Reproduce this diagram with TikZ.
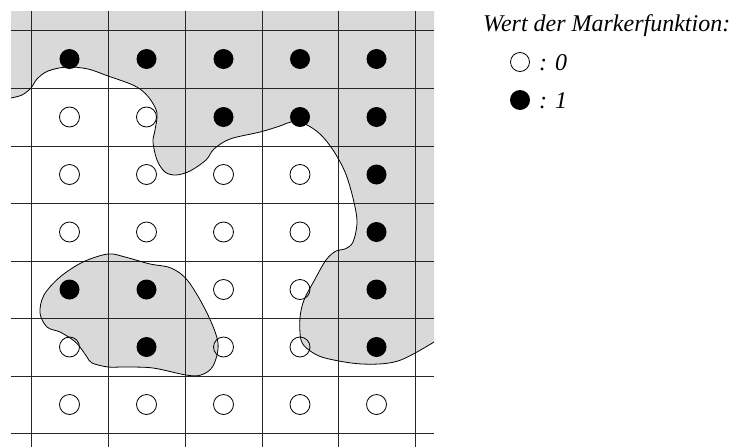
\documentclass[tikz,border=0pt]{standalone}
\usepackage{fontspec}
\setmainfont{Liberation Serif}
\definecolor{regiongray}{RGB}{217,217,217}
\tikzset{
  gridline/.style={line width=0.9pt, black!85},
  boundary/.style={line width=0.8pt, black},
  opendot/.style={line width=0.8pt, black},
  legendtext/.style={font=\fontsize{24}{28}\selectfont\itshape, inner sep=0pt, anchor=base west}
}
\begin{document}
\begin{tikzpicture}[x=1pt,y=-1pt]
\useasboundingbox (0,0) rectangle (730,447);
\fill[white] (0,0) rectangle (730,447);
% main gray region
\def\mainboundary{(11,98) (22,95) (31,88) (37,79) (48,71) (67,67) (88,69) (108,76) (128,83) (140,89) (150,99) (157,113) (155,130) (153,142) (157,160) (165,172) (176,175) (190,171) (206,160) (214,149) (230,139) (260,132) (280,126) (291,122) (305,124) (320,134) (333,150) (345,172) (353,198) (357,222) (353,242) (345,249) (336,251) (326,260) (314,281) (304,300) (300,318) (301,340) (309,350) (325,358) (362,364) (398,361) (434,342)}
\fill[regiongray] plot[smooth, tension=0.55] coordinates {\mainboundary} -- (434,11) -- (11,11) -- cycle;
% blob
\def\blob{(108,254) (83,262) (60,277) (44,295) (40,313) (47,327) (60,332) (73,340) (80,347) (87,357) (92,363) (108,367) (125,367) (153,368) (186,375) (201,375) (213,366) (218,343) (207,313) (188,281) (171,268) (150,264) (125,257)}
\fill[regiongray] plot[smooth cycle, tension=0.55] coordinates {\blob};
% grid
\foreach \x in {31,108,185,262,338,415} \draw[gridline] (\x,11) -- (\x,447);
\foreach \y in {30,88,146,203,261,318,376,433} \draw[gridline] (11,\y) -- (434,\y);
% markers
\def\cx{{69.5,146.5,223.5,300,376.5}}
\def\cy{{59,117,174.5,232,289.5,347,404.5}}
\foreach \r/\row in {0/{1,1,1,1,1},1/{0,0,1,1,1},2/{0,0,0,0,1},3/{0,0,0,0,1},4/{1,1,0,0,1},5/{0,1,0,0,1},6/{0,0,0,0,0}} {
  \foreach \v [count=\c from 0] in \row {
    \pgfmathsetmacro{\px}{\cx[\c]}
    \pgfmathsetmacro{\py}{\cy[\r]}
    \ifnum\v=1
      \fill (\px,\py) circle[radius=10];
    \else
      \draw[opendot] (\px,\py) circle[radius=10];
    \fi
  }
}
% boundaries
\draw[boundary] plot[smooth, tension=0.55] coordinates {\mainboundary};
\draw[boundary] plot[smooth cycle, tension=0.55] coordinates {\blob};
% legend
\node[legendtext] (title) at (483,31) {Wert der Markerfunktion:};
\draw[opendot] (520,62) circle[radius=9.5];
\node[legendtext] (zero) at (539,70) {: 0};
\fill (520,100) circle[radius=10];
\node[legendtext] (one) at (539,108) {: 1};
\end{tikzpicture}
\end{document}
